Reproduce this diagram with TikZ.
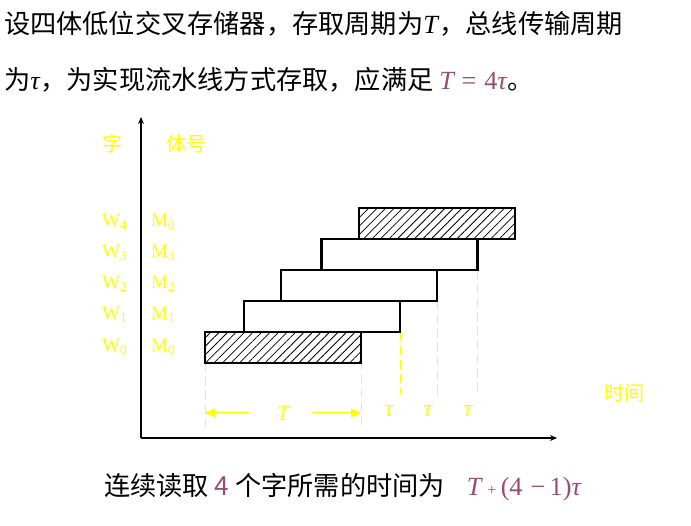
\documentclass[tikz,border=0pt]{standalone}
\usepackage{fontspec}
\setmainfont{Liberation Serif}
\newfontfamily\cjk{Noto Sans CJK SC}
\usetikzlibrary{patterns.meta,arrows.meta}
\definecolor{mathpurple}{RGB}{153,76,118}
\definecolor{yel}{RGB}{255,255,0}
\newcommand{\Wsub}[2]{#1\raisebox{-0.35ex}{\fontsize{13}{13}\selectfont #2}}
\begin{document}
\begin{tikzpicture}[x=1pt,y=-1pt,
  txt/.style={anchor=west,inner sep=0pt,font=\fontsize{26.2}{30}\selectfont},
  ylab/.style={anchor=west,inner sep=0pt,text=yel,font=\fontsize{19}{22}\selectfont},
  ycjk/.style={anchor=west,inner sep=0pt,text=yel,font=\cjk\fontsize{20}{22}\selectfont},
  bar/.style={draw=black,line width=2.2pt,inner sep=0pt,minimum width=156pt,minimum height=31pt},
  hbar/.style={bar,pattern={Lines[angle=45,distance=6pt,line width=0.8pt]}},
  ydash/.style={draw=yel,line width=1pt,dash pattern=on 9pt off 5pt},
  axis/.style={draw=black,line width=1.3pt,-{Stealth[length=7pt,width=6pt]}},
  tarrow/.style={draw=yel,line width=1pt,-{Triangle[length=10pt,width=9pt]}},
  tau/.style={inner sep=0pt,text=yel,font=\fontsize{24}{26}\selectfont\itshape}
]
\useasboundingbox (0,0) rectangle (691,526);
% top text
\node[txt] (l1) at (4,24) {\cjk 设四体低位交叉存储器，存取周期为\textit{\rmfamily T}\cjk ，总线传输周期};
\node[txt] (l2) at (4,80) {\cjk 为\textit{\rmfamily τ}\cjk ，为实现流水线方式存取，应满足 \textcolor{mathpurple}{\rmfamily\textit{T}\hspace{6pt}=\hspace{8pt}4\textit{τ}}\cjk 。};
% axes
\coordinate (O) at (141,438);
\coordinate (ytop) at (141,117);
\coordinate (xend) at (557,438);
\draw[axis] (O) -- (ytop);
\draw[axis] (O) -- (xend);
% axis labels
\node[ycjk] (zi) at (102,144) {字};
\node[ycjk] (tihao) at (166,144) {体号};
\node[ycjk] (shijian) at (604,393) {时间};
% row labels
\node[ylab] (w4) at (102,222) {\Wsub{W}{4}};
\node[ylab] (w3) at (102,253) {\Wsub{W}{3}};
\node[ylab] (w2) at (102,284) {\Wsub{W}{2}};
\node[ylab] (w1) at (102,315) {\Wsub{W}{1}};
\node[ylab] (w0) at (102,347) {\Wsub{W}{0}};
\node[ylab] (m4) at (151,222) {\Wsub{M}{0}};
\node[ylab] (m3) at (151,253) {\Wsub{M}{3}};
\node[ylab] (m2) at (151,284) {\Wsub{M}{2}};
\node[ylab] (m1) at (151,315) {\Wsub{M}{1}};
\node[ylab] (m0) at (151,347) {\Wsub{M}{0}};
% dashed guide coordinates
\coordinate (d0) at (205,427);
\coordinate (d1) at (361,427);
\coordinate (d2) at (400,395);
\coordinate (d3) at (437,395);
\coordinate (d4) at (477,395);
% dashed lines
\draw[ydash] (205,349) -- (d0);
\draw[ydash] (361,332) -- (d1);
\draw[ydash] (400,332) -- (d2);
\draw[ydash] (437,301) -- (d3);
\draw[ydash] (477,270) -- (d4);
% bars
\node[hbar] (b0) at (283,347.5) {};
\node[bar] (b1) at (322,316.5) {};
\node[bar] (b2) at (359,285.5) {};
\node[bar] (b3) at (399.5,254.5) {};
\node[hbar] (b4) at (437,223.5) {};
% T arrow
\node[inner sep=0pt,minimum width=62pt,text=yel,font=\fontsize{22}{24}\selectfont\itshape] (lT) at (280,413) {\hspace{6pt}T};
\coordinate (ta) at (205,413);
\coordinate (tb) at (361,413);
\draw[tarrow] (lT.west) -- (ta);
\draw[tarrow] (lT.east) -- (tb);
% tau labels
\node[tau] (t1) at (389,411) {τ};
\node[tau] (t2) at (428,411) {τ};
\node[tau] (t3) at (468,411) {τ};
% bottom text
\node[txt] (l3) at (104,487) {\cjk 连续读取 \textcolor{mathpurple}{4} 个字所需的时间为\hspace{22pt}\textcolor{mathpurple}{\rmfamily\textit{T}\,{\fontsize{16}{16}\selectfont +}\,(4\hspace{8pt}−\,1)\textit{τ}}};
\end{tikzpicture}
\end{document}
